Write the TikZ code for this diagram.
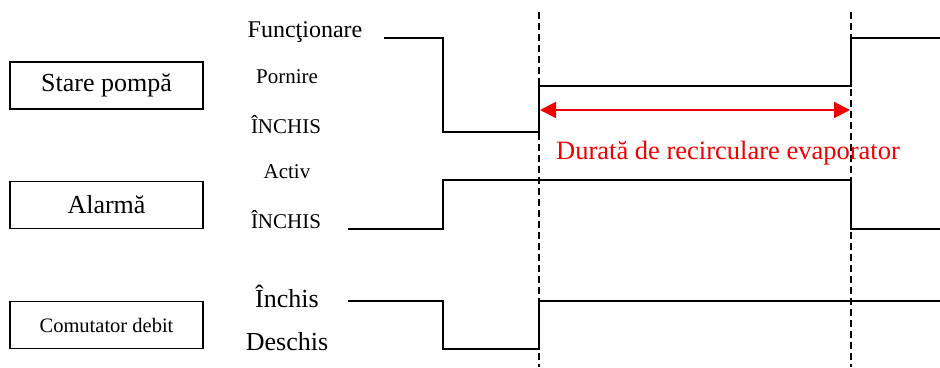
\documentclass[tikz,border=0pt]{standalone}
\usepackage{fontspec}
\setmainfont{Liberation Serif}
\usetikzlibrary{arrows.meta,positioning}
\definecolor{durred}{RGB}{240,0,0}

\tikzset{
  box/.style={draw, line width=1.4pt, minimum width=193pt, minimum height=47pt, inner sep=0pt},
  biglbl/.style={font=\fontsize{26}{28}\selectfont, inner sep=0pt},
  midlbl/.style={font=\fontsize{24}{26}\selectfont, inner sep=0pt},
  smalllbl/.style={font=\fontsize{21}{23}\selectfont, inner sep=0pt},
  sig/.style={line width=1.4pt},
  guide/.style={line width=1.2pt, dash pattern=on 7pt off 4pt},
}

\begin{document}
\begin{tikzpicture}[x=1pt, y=-1pt]
    \useasboundingbox (0,0) rectangle (940,367);

    % Signal boxes
    \node[box, biglbl, minimum width=193pt] (pump) at (106.5,85.5) {Stare pompă};
    \node[box, biglbl, minimum width=193pt] (alarm) at (106.5,205) {Alarmă};
    \node[box, font=\fontsize{20.5}{22}\selectfont, minimum width=193pt] (flow) at (106.5,325) {Comutator debit};

    % Level labels
    \node[midlbl] (pumpon) at (305,32) {Funcţionare};
    \node[smalllbl] (pumpstart) at (287,77) {Pornire};
    \node[smalllbl] (pumpoff) at (286,125) {ÎNCHIS};
    \node[smalllbl] (alarmon) at (287,172) {Activ};
    \node[smalllbl] (alarmoff) at (286,220) {ÎNCHIS};
    \node[biglbl] (flowon) at (287,296) {Închis};
    \node[biglbl] (flowoff) at (287,342) {Deschis};

    % Time marks
    \coordinate (t1top) at (539,12);
    \coordinate (t1bot) at (539,367);
    \coordinate (t2top) at (851,12);
    \coordinate (t2bot) at (851,367);
    \draw[guide] (t1top) -- (t1bot);
    \draw[guide] (t2top) -- (t2bot);

    % Waveforms
    \draw[sig] (384,38) -- (443,38) -- (443,132) -- (539,132) -- (539,86)
        -- (851,86) -- (851,38) -- (940,38);
    \draw[sig] (348,229) -- (443,229) -- (443,180) -- (851,180) -- (851,229)
        -- (940,229);
    \draw[sig] (348,301) -- (443,301) -- (443,349) -- (539,349) -- (539,301)
        -- (940,301);

    % Recirculation time
    \coordinate (durA) at (540,110);
    \coordinate (durB) at (850,110);
    \draw[durred, line width=2pt, {Triangle[length=16pt,width=16pt]}-{Triangle[length=16pt,width=16pt]}] (durA) -- (durB);
    \node[text=durred, font=\fontsize{26.5}{28}\selectfont, inner sep=0pt] (durtext) at (728,153) {Durată de recirculare evaporator};

\end{tikzpicture}
\end{document}
